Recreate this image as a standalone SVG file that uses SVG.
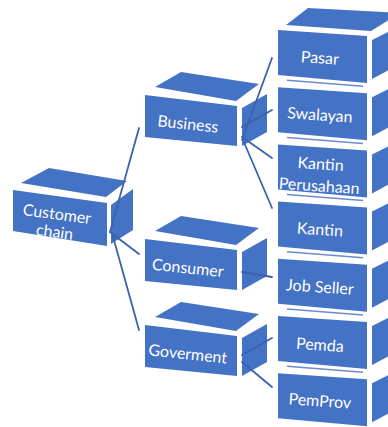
<svg xmlns="http://www.w3.org/2000/svg" width="388" height="427" viewBox="0 0 388 427">
  <style>
    .face { fill: #4472c4; }
    .rim { stroke: #6a8ccf; stroke-width: 1.5; fill: none; }
    .label { fill: #ffffff; font-family: Lato, "Open Sans", "Liberation Sans", sans-serif; font-size: 16px; text-anchor: middle; dominant-baseline: central; }
    .link { stroke: #3c61ad; stroke-width: 1.8; fill: none; stroke-linecap: round; }
  </style>
  <defs>
    <!-- box seen in the stacked right column; origin is its front top-left corner -->
    <g id="stackBox">
      <polygon class="face" points="0,0 89,6 89,53 0,45"/>
      <polygon class="face" points="94,10 122,-4 122,34 94,49"/>
    </g>
    <!-- box of the middle column; origin is its front top-left corner -->
    <g id="midBox">
      <polygon class="face" points="10,-8 36,-23 114,-11 91,6"/>
      <polygon class="face" points="0,0 92,11 92,51 0,42"/>
      <polygon class="face" points="97,13 122,-1 122,37 97,51"/>
    </g>
  </defs>
  <rect width="388" height="427" fill="#ffffff"/>

  <!-- root -->
  <g id="customer-chain">
    <polygon class="face" points="21,183 49,168 127,181 106,197"/>
    <polygon class="face" points="13,190 107,203 107,246 13,231"/>
    <polygon class="face" points="111,205 133,189 133,230 111,244"/>
    <g transform="rotate(7.5 56 222)">
      <text class="label" x="56" y="213">Customer</text>
      <text class="label" x="56" y="231">chain</text>
    </g>
  </g>

  <!-- middle column -->
  <g id="business">
    <use href="#midBox" x="145" y="95"/>
    <text class="label" x="188" y="123" transform="rotate(6 188 123)">Business</text>
  </g>
  <g id="consumer">
    <use href="#midBox" x="145" y="239"/>
    <text class="label" x="188" y="267" transform="rotate(6 188 267)">Consumer</text>
  </g>
  <g id="goverment">
    <use href="#midBox" x="145" y="325"/>
    <text class="label" x="188" y="353" transform="rotate(6 188 353)">Goverment</text>
  </g>

  <!-- right column -->
  <g id="pasar">
    <polygon class="face" points="286,25 308,8 400,13 371,31"/>
    <use href="#stackBox" x="278" y="30"/>
    <text class="label" x="320" y="57" transform="rotate(3.9 320 57)">Pasar</text>
  </g>
  <g id="swalayan">
    <line class="rim" x1="287" y1="80.2" x2="363" y2="86.2"/>
    <use href="#stackBox" x="278" y="87.2"/>
    <text class="label" x="320" y="114" transform="rotate(3.9 320 114)">Swalayan</text>
  </g>
  <g id="kantin-perusahaan">
    <line class="rim" x1="287" y1="137.4" x2="363" y2="143.4"/>
    <use href="#stackBox" x="278" y="144.4"/>
    <g transform="rotate(3.9 320 174)">
      <text class="label" x="320" y="163">Kantin</text>
      <text class="label" x="320" y="185">Perusahaan</text>
    </g>
  </g>
  <g id="kantin">
    <line class="rim" x1="287" y1="194.6" x2="363" y2="200.6"/>
    <use href="#stackBox" x="278" y="201.6"/>
    <text class="label" x="320" y="228.6" transform="rotate(3.9 320 228.6)">Kantin</text>
  </g>
  <g id="job-seller">
    <line class="rim" x1="287" y1="251.8" x2="363" y2="257.8"/>
    <use href="#stackBox" x="278" y="258.8"/>
    <text class="label" x="320" y="286" transform="rotate(3.9 320 286)">Job Seller</text>
  </g>
  <g id="pemda">
    <line class="rim" x1="287" y1="309" x2="363" y2="315"/>
    <use href="#stackBox" x="278" y="316"/>
    <text class="label" x="320" y="344" transform="rotate(3.9 320 344)">Pemda</text>
  </g>
  <g id="pemprov">
    <line class="rim" x1="287" y1="366.2" x2="363" y2="372.2"/>
    <use href="#stackBox" x="278" y="373.2"/>
    <text class="label" x="320" y="400" transform="rotate(3.9 320 400)">PemProv</text>
  </g>

  <!-- connectors -->
  <g id="connectors">
    <line class="link" x1="110" y1="232" x2="139" y2="128"/>
    <line class="link" x1="110" y1="232" x2="139" y2="254"/>
    <line class="link" x1="112" y1="233" x2="139" y2="330"/>
    <line class="link" x1="242" y1="140" x2="272" y2="58"/>
    <line class="link" x1="242" y1="127" x2="272" y2="110"/>
    <line class="link" x1="242" y1="137" x2="272" y2="158"/>
    <line class="link" x1="243" y1="140" x2="272" y2="208"/>
    <line class="link" x1="242" y1="272" x2="272" y2="277"/>
    <line class="link" x1="242" y1="355" x2="272" y2="338"/>
    <line class="link" x1="242" y1="362" x2="272" y2="387"/>
  </g>
</svg>
